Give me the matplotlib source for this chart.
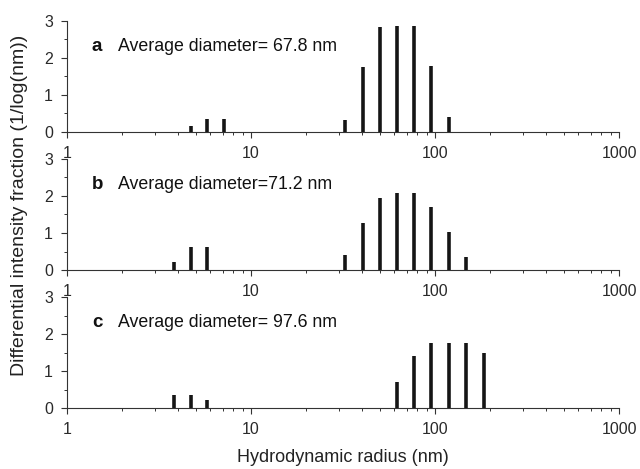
import numpy as np
import matplotlib
matplotlib.use('Agg')
import matplotlib.pyplot as plt
from matplotlib.ticker import MultipleLocator, LogLocator, NullFormatter

plt.rcParams['font.family'] = ['Liberation Sans', 'DejaVu Sans']

# bin centres (nm) and intensities
radius_a = [4.7, 5.8, 7.1, 32.5, 40.4, 50.2, 62.0, 77.0, 95.5, 119.0]
inten_a = [0.15, 0.33, 0.33, 0.32, 1.75, 2.82, 2.85, 2.85, 1.78, 0.39]

radius_b = [3.8, 4.7, 5.8, 32.5, 40.4, 50.2, 62.0, 77.0, 95.5, 119.0, 148.0]
inten_b = [0.21, 0.61, 0.61, 0.40, 1.28, 1.94, 2.07, 2.07, 1.69, 1.03, 0.36]

radius_c = [3.8, 4.7, 5.8, 62.5, 77.0, 95.5, 119.0, 148.0, 185.0]
inten_c = [0.35, 0.35, 0.22, 0.71, 1.41, 1.75, 1.75, 1.75, 1.49]

letters = ['a', 'b', 'c']
captions = ['Average diameter= 67.8 nm', 'Average diameter=71.2 nm', 'Average diameter= 97.6 nm']
xticks = [1, 10, 100, 1000]
xticklabels = ['1', '10', '100', '1000']
yticks = [0, 1, 2, 3]

fig = plt.figure(figsize=(6.4, 4.69), dpi=100)
# three stacked panels, same size, sharing the log x range
bottoms = [0.7192, 0.4243, 0.130]
axes = [fig.add_axes([0.1047, b, 0.8625, 0.2367]) for b in bottoms]

data = [(radius_a, inten_a), (radius_b, inten_b), (radius_c, inten_c)]
for ax, (r, h), let, cap in zip(axes, data, letters, captions):
    ax.vlines(r, 0, h, color='#151515', linewidth=2.6)
    ax.set_xscale('log')
    ax.set_xlim(1, 1000)
    ax.set_ylim(0, 3)
    ax.set_xticks(xticks)
    ax.set_xticklabels(xticklabels)
    ax.xaxis.set_minor_locator(LogLocator(base=10, subs=np.arange(2, 10)))
    ax.xaxis.set_minor_formatter(NullFormatter())
    ax.set_yticks(yticks)
    ax.yaxis.set_minor_locator(MultipleLocator(0.5))
    for s in ['top', 'right']:
        ax.spines[s].set_visible(False)
    for s in ['left', 'bottom']:
        ax.spines[s].set_color('#333333')
        ax.spines[s].set_linewidth(0.8)
    ax.tick_params(which='major', length=4, width=0.8, color='#333333',
                   labelsize=11.5, labelcolor='#2a2a2a', pad=6)
    ax.tick_params(which='minor', length=2.5, width=0.7, color='#333333')
    ax.patch.set_alpha(0)
    # panel letter and caption
    ax.text(0.045, 0.77, let, transform=ax.transAxes, fontsize=13.5,
            fontweight='bold', color='#111111', va='center')
    ax.text(0.092, 0.77, cap, transform=ax.transAxes, fontsize=12.8,
            color='#111111', va='center')

axes[2].set_xlabel('Hydrodynamic radius (nm)', fontsize=13, color='#222222', labelpad=9)
fig.text(0.031, 0.563, 'Differential intensity fraction (1/log(nm))', rotation=90,
         fontsize=14, color='#222222', ha='center', va='center')

fig.savefig('out.png', dpi=100)
